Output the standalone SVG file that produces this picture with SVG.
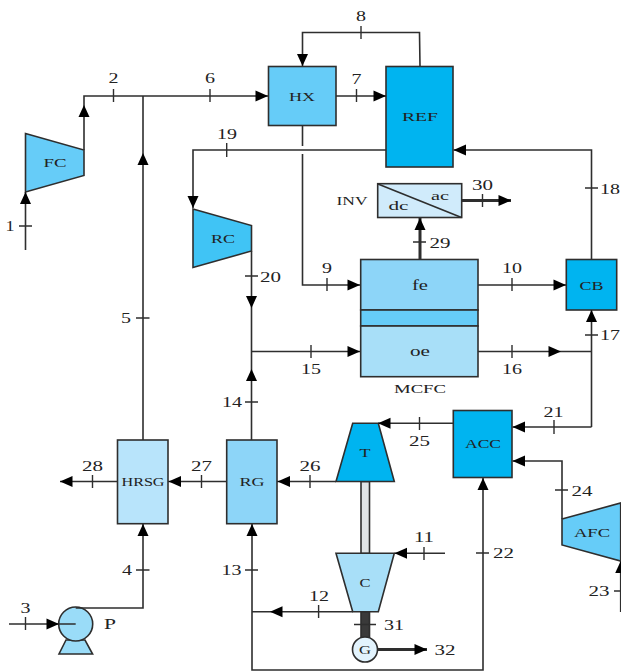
<svg xmlns="http://www.w3.org/2000/svg" width="621" height="671" viewBox="0 0 621 671">
<style>
text{font-family:"Liberation Serif","DejaVu Serif",serif;fill:#222;text-anchor:middle}
.n{font-size:15.500px}
.l{font-size:13.500px}
.m{font-size:12px}
.s{fill:none;stroke:#2e2e2e;stroke-width:1.6}
.e{stroke:#2e2e2e;stroke-width:1.6;stroke-linejoin:miter}
.w{stroke-width:3}
.h{fill:#000;stroke:none}
.t{fill:none;stroke:#2e2e2e;stroke-width:1.4}
</style>
<defs>
<path id="au" class="h" d="M0 0L5.500 12L-5.500 12Z"/>
<path id="ad" class="h" d="M0 0L5.500 -12L-5.500 -12Z"/>
<path id="ar" class="h" d="M0 0L-12.500 5.500L-12.500 -5.500Z"/>
<path id="al" class="h" d="M0 0L12.500 5.500L12.500 -5.500Z"/>
</defs>
<g id="FC"><polygon class="e" fill="#66ccf8" points="25.500,133.500 84,150 84,175.500 25.500,192"/><text class="l" x="55" y="167" textLength="23" lengthAdjust="spacingAndGlyphs">FC</text></g>
<g id="RC"><polygon class="e" fill="#40c4f5" points="193,209 251.500,225.500 251.500,251 193,267.500"/><text class="l" x="223" y="243" textLength="24" lengthAdjust="spacingAndGlyphs">RC</text></g>
<g id="HX"><rect class="e" fill="#66ccf8" x="268.500" y="66.500" width="67.500" height="59"/><text class="l" x="302" y="100.500" textLength="26" lengthAdjust="spacingAndGlyphs">HX</text></g>
<g id="REF"><rect class="e" fill="#00b4f0" x="386" y="66.500" width="67" height="100.500"/><text class="l" x="420" y="121" textLength="36" lengthAdjust="spacingAndGlyphs">REF</text></g>
<g id="INV"><rect class="e" fill="#d0ebfb" x="377.700" y="183.700" width="84" height="33.800"/><line class="e" x1="378" y1="184" x2="461.500" y2="217.500"/><text class="l" x="398.500" y="210" textLength="20" lengthAdjust="spacingAndGlyphs">dc</text><text class="l" x="440" y="200" textLength="18" lengthAdjust="spacingAndGlyphs">ac</text><text class="l" x="352" y="205" textLength="31" lengthAdjust="spacingAndGlyphs">INV</text></g>
<g id="MCFC"><rect class="e" fill="#8dd5f8" x="360.700" y="259.500" width="117.300" height="50.500"/><rect class="e" fill="#66ccf8" x="360.700" y="310" width="117.300" height="16"/><rect class="e" fill="#a8dff8" x="360.700" y="326" width="117.300" height="50.700"/><text class="n" x="420" y="290" textLength="16" lengthAdjust="spacingAndGlyphs">fe</text><text class="n" x="420" y="356" textLength="20" lengthAdjust="spacingAndGlyphs">oe</text><text class="l" x="420" y="393" textLength="52" lengthAdjust="spacingAndGlyphs">MCFC</text></g>
<g id="CB"><rect class="e" fill="#00b4f0" x="566.300" y="259.500" width="50.400" height="50.500"/><text class="l" x="591.500" y="289.500" textLength="24" lengthAdjust="spacingAndGlyphs">CB</text></g>
<g id="HRSG"><rect class="e" fill="#b8e4fb" x="117.500" y="440" width="50.500" height="83.700"/><text class="m" x="143" y="485.500" textLength="43" lengthAdjust="spacingAndGlyphs">HRSG</text></g>
<g id="RG"><rect class="e" fill="#8dd5f8" x="226.700" y="440" width="50.300" height="83.700"/><text class="l" x="252" y="486" textLength="25" lengthAdjust="spacingAndGlyphs">RG</text></g>
<g id="shaft"><rect class="e" fill="#e0e4e6" x="361" y="481.500" width="8.500" height="72"/><rect class="e" fill="#3a3a3a" x="361" y="611.700" width="8.500" height="26"/></g>
<g id="T"><polygon class="e" fill="#00b4f0" points="352.700,423.300 378.300,423.300 394.300,481.500 336,481.500"/><text class="l" x="365" y="457" textLength="11" lengthAdjust="spacingAndGlyphs">T</text></g>
<g id="C"><polygon class="e" fill="#a8dff8" points="336,553.300 394.300,553.300 378.300,611.700 352.700,611.700"/><text class="l" x="365" y="587" textLength="11" lengthAdjust="spacingAndGlyphs">C</text></g>
<g id="G"><circle class="e" fill="#e2f3fd" cx="365" cy="649.500" r="12.500"/><text class="l" x="365" y="654" textLength="12" lengthAdjust="spacingAndGlyphs">G</text></g>
<g id="ACC"><rect class="e" fill="#00b4f0" x="453.300" y="410.500" width="58.700" height="67"/><text class="l" x="483" y="448" textLength="36" lengthAdjust="spacingAndGlyphs">ACC</text></g>
<g id="AFC"><polygon class="e" fill="#66ccf8" points="562,519 620.700,503 620.700,561 562,545"/><text class="l" x="592" y="536.500" textLength="36" lengthAdjust="spacingAndGlyphs">AFC</text></g>
<g id="P"><polygon class="e" fill="#9adcf8" points="66,640 59,654 92.600,654 85,640"/><circle class="e" fill="#9adcf8" cx="75.700" cy="624" r="17"/><text class="n" x="110" y="629" textLength="12" lengthAdjust="spacingAndGlyphs">P</text></g>
<g id="connectors">
<path class="s" d="M25.500 250V192M84 150V96H268M143 96V440M386 150H193V208M302.500 125.500V146M302.500 154V285H360M251.500 251V440M252 351.500H360M478 351.500H591.500M591.500 427H512.500M591.500 427V310M591.500 259V150H453.500M420 66L419.500 32.500H302.500V66M336 96H386M478 285H566M336 481.500H277M453.300 423.300H378M226.700 481.500H168M117.500 481.500H60M75.700 608H143V524M9 624H75.700M252 524V670H483V478M352.700 611.700H252M445 553.300H394.500M562 519V461H512.500M620.700 612V561"/>
<path class="s w" d="M420 259V218M462 200.500H511M377 649.500H427"/>
<use href="#au" x="25.500" y="192"/><use href="#au" x="84" y="105"/><use href="#ar" x="268" y="96"/><use href="#au" x="143" y="153"/><use href="#ad" x="193" y="208"/><use href="#ar" x="360" y="285"/><use href="#ad" x="251.500" y="308"/><use href="#au" x="251.500" y="369"/><use href="#ar" x="360" y="351.500"/><use href="#ar" x="561" y="351.500"/><use href="#al" x="512.500" y="427"/><use href="#au" x="591.500" y="310"/><use href="#al" x="453.500" y="150"/><use href="#ad" x="302.500" y="66"/><use href="#ar" x="386" y="96"/><use href="#ar" x="566" y="285"/><use href="#al" x="277.500" y="481.500"/><use href="#al" x="378" y="423.300"/><use href="#al" x="168.500" y="481.500"/><use href="#al" x="60" y="481.500"/><use href="#au" x="143" y="524"/><use href="#ar" x="59" y="624"/><use href="#au" x="252" y="524"/><use href="#au" x="483" y="478"/><use href="#al" x="270" y="611.700"/><use href="#al" x="394.500" y="553.300"/><use href="#al" x="512.500" y="461"/><use href="#au" x="620.700" y="561"/><use href="#au" x="420" y="218"/><use href="#ar" x="511" y="200.500"/><use href="#ar" x="427" y="649.500"/>
<path class="t" d="M19 226H32M113.500 89V102M210 89V102M136 318H149.500M226.700 143V157M245 276H258M327 278V291M136 570H149.500M245 402H258M311 345V358M512 345V358M585 335H598M554 420V434M585 188H598M361 26V39M356.500 89V102M413 242H426M482.500 194V207M512 278V291M310 475V488M419.500 417V430M201.500 475V488M92.500 475V488M245 570H258M476 553H489M318.600 605V618M424 547V560M555 490H568M614 591H621M354 624.500H376M25.500 617V630"/>
</g>
<g id="labels">
<text class="n" x="10" y="231" textLength="9" lengthAdjust="spacingAndGlyphs">1</text><text class="n" x="113.500" y="83" textLength="10" lengthAdjust="spacingAndGlyphs">2</text><text class="n" x="210" y="83" textLength="10" lengthAdjust="spacingAndGlyphs">6</text><text class="n" x="126" y="323" textLength="10" lengthAdjust="spacingAndGlyphs">5</text><text class="n" x="227" y="139" textLength="20" lengthAdjust="spacingAndGlyphs">19</text><text class="n" x="270.500" y="282" textLength="21" lengthAdjust="spacingAndGlyphs">20</text><text class="n" x="361" y="21" textLength="10" lengthAdjust="spacingAndGlyphs">8</text><text class="n" x="356.500" y="84" textLength="10" lengthAdjust="spacingAndGlyphs">7</text><text class="n" x="327" y="273" textLength="10" lengthAdjust="spacingAndGlyphs">9</text><text class="n" x="512" y="273" textLength="20" lengthAdjust="spacingAndGlyphs">10</text><text class="n" x="311" y="374" textLength="20" lengthAdjust="spacingAndGlyphs">15</text><text class="n" x="512" y="374" textLength="20" lengthAdjust="spacingAndGlyphs">16</text><text class="n" x="610" y="340" textLength="20" lengthAdjust="spacingAndGlyphs">17</text><text class="n" x="610" y="194" textLength="20" lengthAdjust="spacingAndGlyphs">18</text><text class="n" x="553.500" y="417" textLength="20" lengthAdjust="spacingAndGlyphs">21</text><text class="n" x="503.500" y="558" textLength="21" lengthAdjust="spacingAndGlyphs">22</text><text class="n" x="599" y="596" textLength="21" lengthAdjust="spacingAndGlyphs">23</text><text class="n" x="582" y="496" textLength="21" lengthAdjust="spacingAndGlyphs">24</text><text class="n" x="419.500" y="446" textLength="21" lengthAdjust="spacingAndGlyphs">25</text><text class="n" x="310" y="471" textLength="21" lengthAdjust="spacingAndGlyphs">26</text><text class="n" x="201.500" y="471" textLength="21" lengthAdjust="spacingAndGlyphs">27</text><text class="n" x="92.500" y="471" textLength="21" lengthAdjust="spacingAndGlyphs">28</text><text class="n" x="440" y="248" textLength="21" lengthAdjust="spacingAndGlyphs">29</text><text class="n" x="482.500" y="190" textLength="21" lengthAdjust="spacingAndGlyphs">30</text><text class="n" x="394" y="630" textLength="20" lengthAdjust="spacingAndGlyphs">31</text><text class="n" x="445" y="655" textLength="21" lengthAdjust="spacingAndGlyphs">32</text><text class="n" x="232" y="407" textLength="20" lengthAdjust="spacingAndGlyphs">14</text><text class="n" x="231.500" y="575" textLength="20" lengthAdjust="spacingAndGlyphs">13</text><text class="n" x="127" y="575" textLength="10" lengthAdjust="spacingAndGlyphs">4</text><text class="n" x="25.500" y="613" textLength="10" lengthAdjust="spacingAndGlyphs">3</text><text class="n" x="319" y="601" textLength="20" lengthAdjust="spacingAndGlyphs">12</text><text class="n" x="424" y="542" textLength="20" lengthAdjust="spacingAndGlyphs">11</text>
</g>
</svg>
